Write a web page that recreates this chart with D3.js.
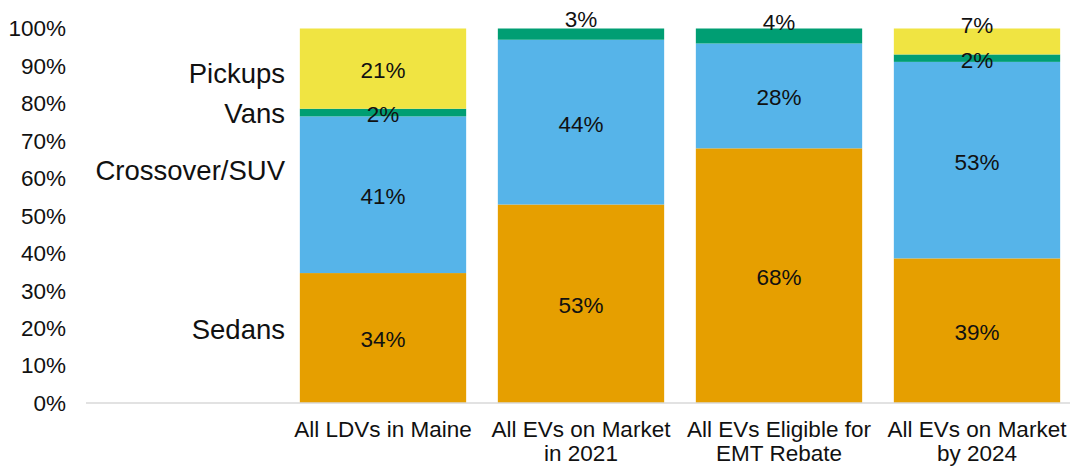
<!DOCTYPE html>
<html>
<head>
<meta charset="utf-8">
<script src="https://cdn.jsdelivr.net/npm/d3@7"></script>
<style>
  html, body { margin: 0; padding: 0; background: #fff; }
  svg { display: block; font-family: "Liberation Sans", Arial, sans-serif; }
</style>
</head>
<body>
<svg id="chart" width="1070" height="467"></svg>
<script>
// ---- Data ----
const categories = ["", "All LDVs in Maine", "All EVs on Market\nin 2021", "All EVs Eligible for\nEMT Rebate", "All EVs on Market\nby 2024"];
const seriesNames = ["Sedans", "Crossover/SUV", "Vans", "Pickups"];
const sedans       = [null, 34, 53, 68, 39];
const crossoverSUV = [null, 41, 44, 28, 53];
const vans         = [null, 2, 3, 4, 2];
const pickups      = [null, 21, 0, 0, 7];
const yTicks = [0, 0.1, 0.2, 0.3, 0.4, 0.5, 0.6, 0.7, 0.8, 0.9, 1.0];
const colors = ["#E69F00", "#56B4E9", "#009E73", "#F0E442"];

// ---- Build table ----
const seriesValues = [sedans, crossoverSUV, vans, pickups];
const rows = categories.slice(1).map((c, i) => {
  const r = { category: c };
  seriesNames.forEach((s, k) => r[s] = seriesValues[k][i + 1]);
  return r;
});

const svg = d3.select("#chart");
const x = d3.scaleBand().domain(categories).range([86, 1076]).paddingInner(0.16).paddingOuter(0.08);
const y = d3.scaleLinear().domain([0, 1]).range([403, 28.5]);
const color = d3.scaleOrdinal().domain(seriesNames).range(colors);

const stacked = d3.stack().keys(seriesNames).offset(d3.stackOffsetExpand)(rows);

const FS = 22.5;

// y tick labels
svg.append("g").selectAll("text").data(yTicks).join("text")
  .attr("x", 66).attr("y", d => y(d)).attr("dy", "0.35em")
  .attr("text-anchor", "end").attr("font-size", FS).attr("fill", "#111")
  .text(d => d3.format(".0%")(d));

// bars
const layers = svg.append("g").selectAll("g").data(stacked).join("g")
  .attr("fill", d => color(d.key));
layers.selectAll("rect").data(d => d).join("rect")
  .attr("x", d => x(d.data.category))
  .attr("width", x.bandwidth())
  .attr("y", d => y(d[1]))
  .attr("height", d => y(d[0]) - y(d[1]));

// x axis line
svg.append("line").attr("x1", 86).attr("x2", 1070).attr("y1", y(0)).attr("y2", y(0))
  .attr("stroke", "#d9d9d9").attr("stroke-width", 1.5);

// value labels (nudges for small top segments)
const labelNudge = {
  "All EVs on Market\nin 2021|Vans": -16,
  "All EVs Eligible for\nEMT Rebate|Vans": -15,
  "All EVs on Market\nby 2024|Pickups": -18
};
const labelData = [];
stacked.forEach(layer => layer.forEach(d => {
  const v = d.data[layer.key];
  if (v > 0) labelData.push({ key: layer.key, cat: d.data.category, v, mid: (y(d[0]) + y(d[1])) / 2 });
}));
svg.append("g").selectAll("text").data(labelData).join("text")
  .attr("x", d => x(d.cat) + x.bandwidth() / 2)
  .attr("y", d => d.mid + 1.5 + (labelNudge[d.cat + "|" + d.key] || 0))
  .attr("dy", "0.35em").attr("text-anchor", "middle")
  .attr("font-size", FS).attr("fill", "#111")
  .text(d => d.v + "%");

// series name labels beside first bar
const nameNudge = { "Pickups": 5, "Vans": 1, "Crossover/SUV": -24, "Sedans": -9 };
const firstCat = categories[1];
svg.append("g").selectAll("text").data(stacked).join("text")
  .attr("x", 285)
  .attr("y", layer => {
    const d = layer.find(p => p.data.category === firstCat);
    return (y(d[0]) + y(d[1])) / 2 + (nameNudge[layer.key] || 0);
  })
  .attr("dy", "0.35em").attr("text-anchor", "end")
  .attr("font-size", 27.5).attr("fill", "#111")
  .text(d => d.key);

// x category labels
svg.append("g").selectAll("text").data(categories.slice(1)).join("text")
  .attr("x", d => x(d) + x.bandwidth() / 2)
  .attr("y", 429)
  .attr("text-anchor", "middle").attr("font-size", FS).attr("fill", "#111")
  .each(function(d) {
    const t = d3.select(this);
    d.split("\n").forEach((line, i) => {
      t.append("tspan").attr("x", x(d) + x.bandwidth() / 2)
        .attr("dy", i === 0 ? "0.35em" : "24.5").text(line);
    });
  });
</script>
</body>
</html>
